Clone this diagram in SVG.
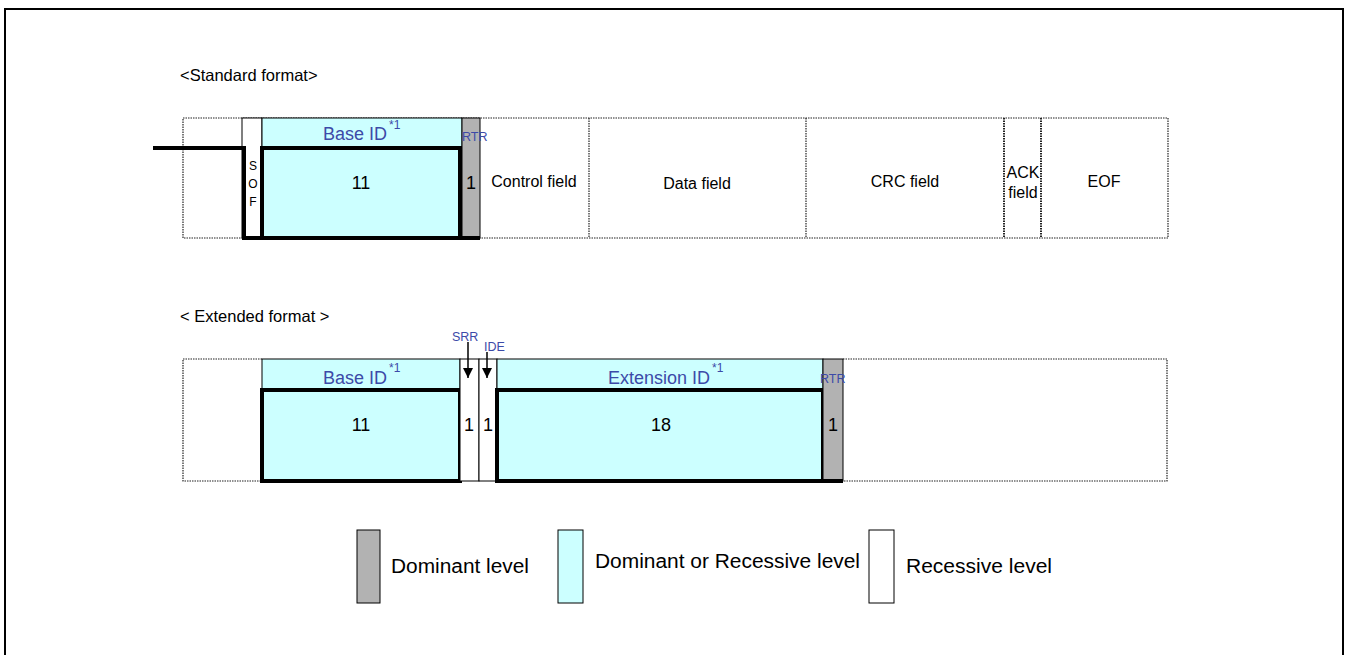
<svg xmlns="http://www.w3.org/2000/svg" width="1350" height="655" viewBox="0 0 1350 655">
<style>
text{font-family:"Liberation Sans",Arial,sans-serif;fill:#000}
.t{font-size:16.5px}
.f{font-size:16px}
.n{font-size:18px}
.lg{font-size:20px}
.b{fill:#3c4aa8}
.id{font-size:18px}
.sup{font-size:12px}
.sm{font-size:12.5px}
.sof{font-size:12px}
.cy{fill:#ccffff;stroke:#000;stroke-width:1}
.gr{fill:#b2b2b2;stroke:#000;stroke-width:1}
.wh{fill:#fff;stroke:#000;stroke-width:1}
.thick{fill:none;stroke:#000;stroke-width:4}
.dot{fill:none;stroke:#222;stroke-width:1.2;stroke-dasharray:1.5 1}
.dot2{fill:none;stroke:#222;stroke-width:2;stroke-dasharray:1.5 1}
.c{text-anchor:middle}
</style>
<defs>
<marker id="ah" viewBox="0 0 10 10" refX="10" refY="5" markerWidth="10" markerHeight="10" markerUnits="userSpaceOnUse" orient="auto">
<path d="M0,0 L10,5 L0,10 Z" fill="#000"/>
</marker>
</defs>
<rect x="5" y="9" width="1338" height="700" fill="#fff" stroke="#000" stroke-width="2"/>

<g id="standard-title"><text class="t" x="180" y="81">&lt;Standard format&gt;</text></g>

<g id="standard-frame">
<rect class="dot" x="183" y="118" width="985" height="120"/>
<line class="dot" x1="589" y1="118" x2="589" y2="238"/>
<line class="dot" x1="806" y1="118" x2="806" y2="238"/>
<line class="dot2" x1="1004" y1="118" x2="1004" y2="238"/>
<line class="dot2" x1="1041" y1="118" x2="1041" y2="238"/>
</g>

<g id="std-sof">
<rect class="wh" x="242" y="118" width="20" height="120"/>
<text class="sof c" x="253" y="170">S</text>
<text class="sof c" x="253" y="188">O</text>
<text class="sof c" x="253" y="206">F</text>
</g>

<g id="std-baseid">
<rect class="cy" x="262" y="118" width="200" height="30"/>
<text class="id b c" x="355" y="139.5">Base ID</text>
<text class="sup b" x="389" y="129">*1</text>
<rect class="cy" x="262" y="148" width="198" height="90" style="stroke-width:4"/>
<text class="n c" x="361" y="189">11</text>
</g>

<g id="std-rtr">
<rect class="gr" x="462" y="118" width="18" height="120"/>
<text class="sm b" x="462" y="141">RTR</text>
<text class="n c" x="471" y="189">1</text>
</g>

<g id="std-control"><text class="f c" x="534" y="187">Control field</text></g>
<g id="std-data"><text class="f c" x="697" y="189">Data field</text></g>
<g id="std-crc"><text class="f c" x="905" y="187">CRC field</text></g>
<g id="std-ack"><text class="f c" x="1023" y="178">ACK</text><text class="f c" x="1023" y="198">field</text></g>
<g id="std-eof"><text class="f c" x="1104" y="187">EOF</text></g>

<g id="ext-title"><text class="t" x="180" y="322">&lt; Extended format &gt;</text></g>

<g id="ext-frame">
<polyline class="dot" points="262,359 183,359 183,481 262,481"/>
<polyline class="dot" points="843,359 1167,359 1167,481 843,481"/>
</g>

<g id="ext-baseid">
<rect class="cy" x="262" y="359" width="198" height="31"/>
<text class="id b c" x="355" y="383.5">Base ID</text>
<text class="sup b" x="389" y="372">*1</text>
<rect class="cy" x="262" y="390" width="198" height="91" style="stroke-width:4"/>
<text class="n c" x="361" y="431">11</text>
</g>

<g id="ext-srr">
<rect class="wh" x="460" y="359" width="19" height="122"/>
<text class="sm b" x="452" y="340.5">SRR</text>
<text class="n c" x="469" y="431">1</text>
</g>

<g id="ext-ide">
<rect class="wh" x="479" y="359" width="18" height="122"/>
<text class="sm b" x="484" y="350.5">IDE</text>
<text class="n c" x="488" y="431">1</text>
</g>

<g id="ext-extid">
<rect class="cy" x="497" y="359" width="326" height="31"/>
<text class="id b c" x="659" y="383.5">Extension ID</text>
<text class="sup b" x="712" y="372">*1</text>
<rect class="cy" x="497" y="390" width="326" height="91" style="stroke-width:4"/>
<text class="n c" x="661" y="431">18</text>
</g>

<g id="ext-rtr">
<rect class="gr" x="823" y="359" width="20" height="122"/>
<text class="sm b" x="820" y="382.5">RTR</text>
<text class="n c" x="833" y="431">1</text>
</g>

<g id="connectors">
<path class="thick" d="M153,148 H244 V238 H480"/>
<line x1="823" y1="481" x2="843" y2="481" stroke="#000" stroke-width="4"/>
<line x1="468" y1="342" x2="468" y2="378" stroke="#000" stroke-width="1.5" marker-end="url(#ah)"/>
<line x1="487" y1="352" x2="487" y2="378" stroke="#000" stroke-width="1.5" marker-end="url(#ah)"/>
</g>

<g id="legend-dominant">
<rect class="gr" x="357" y="530" width="23" height="73"/>
<text class="lg" x="391" y="573" textLength="138" lengthAdjust="spacingAndGlyphs">Dominant level</text>
</g>
<g id="legend-either">
<rect class="cy" x="558" y="530" width="25" height="73"/>
<text class="lg" x="595" y="568" textLength="265" lengthAdjust="spacingAndGlyphs">Dominant or Recessive level</text>
</g>
<g id="legend-recessive">
<rect class="wh" x="869" y="530" width="25" height="73"/>
<text class="lg" x="906" y="573" textLength="146" lengthAdjust="spacingAndGlyphs">Recessive level</text>
</g>
</svg>
